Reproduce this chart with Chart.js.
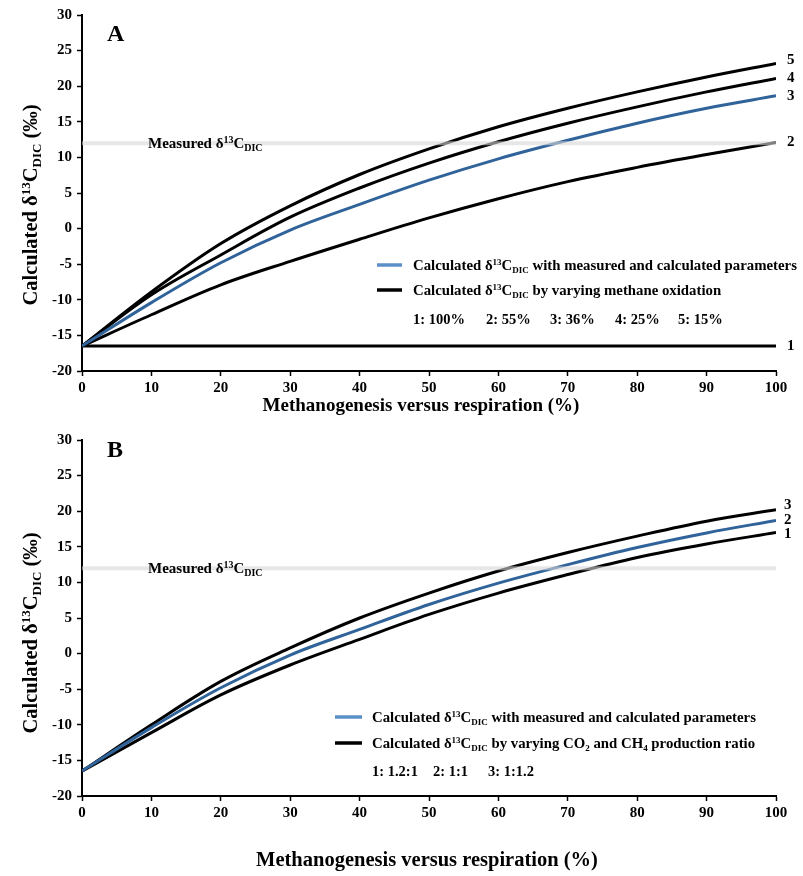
<!DOCTYPE html>
<html><head><meta charset="utf-8">
<script src="https://cdn.jsdelivr.net/npm/chart.js@4/dist/chart.umd.min.js"></script>
<style>
html,body{margin:0;padding:0;background:#fff;}
#wrap{position:relative;width:803px;height:876px;overflow:hidden;}
canvas{position:absolute;left:0;}
</style></head><body>
<div id="wrap">
<canvas id="cA" width="803" height="430" style="top:0;width:803px;height:430px"></canvas>
<canvas id="cB" width="803" height="451" style="top:425px;width:803px;height:451px"></canvas>
</div>
<script>
// ---- data ----
const xValues = [0, 10, 20, 30, 40, 50, 60, 70, 80, 90, 100];
const measuredValue = 12;
// Panel A: methane oxidation
const aOx100 = [-16.5, -16.5, -16.5, -16.5, -16.5, -16.5, -16.5, -16.5, -16.5, -16.5, -16.5];
const aOx55  = [-16.5, -12.1, -7.9, -4.6, -1.5, 1.5, 4.2, 6.6, 8.6, 10.4, 12.1];
const aOx36  = [-16.5, -10.4, -4.8, -0.2, 3.4, 6.8, 9.8, 12.4, 14.8, 16.9, 18.65];
const aOx25  = [-16.5, -9.3, -3.7, 1.6, 5.7, 9.2, 12.2, 14.8, 17.1, 19.2, 21.1];
const aOx15  = [-16.5, -8.9, -2.1, 3.2, 7.6, 11.2, 14.3, 16.9, 19.2, 21.3, 23.2];
const aNumbers = ['1: 100%', '2: 55%', '3: 36%', '4: 25%', '5: 15%'];
// Panel B: CO2 : CH4 production ratio
const bR12_1 = [-16.5, -11.1, -5.8, -1.6, 2.0, 5.5, 8.5, 11.1, 13.5, 15.4, 17.0];
const bR1_1  = [-16.5, -10.4, -4.8, -0.2, 3.4, 6.9, 9.9, 12.5, 14.9, 16.95, 18.7];
const bR1_12 = [-16.5, -10.0, -3.9, 0.8, 5.0, 8.5, 11.6, 14.2, 16.5, 18.6, 20.2];
const bNumbers = ['1: 1.2:1', '2: 1:1', '3: 1:1.2'];
const xTitle = 'Methanogenesis versus respiration (%)';

// ---- helpers ----
const FAM = '"Liberation Serif", "Times New Roman", serif';
const BLUE = '#30639a';
const pts = arr => arr.map((v, i) => ({x: xValues[i], y: v}));
const flat = v => xValues.filter((x, i) => i === 0 || i === xValues.length - 1).map(x => ({x, y: v}));

function rich(ctx, parts, x, cy, base, align) {
  const small = Math.round(base * 0.64);
  let w = 0;
  const m = parts.map(([t, k]) => {
    const size = k === 'n' ? base : small;
    ctx.font = `bold ${size}px ${FAM}`;
    const tw = ctx.measureText(t).width; w += tw;
    return {t, k, size, tw};
  });
  let cx = align === 'center' ? x - w / 2 : x;
  const y = cy + base * 0.34;
  ctx.textAlign = 'left'; ctx.textBaseline = 'alphabetic'; ctx.fillStyle = '#000';
  for (const p of m) {
    ctx.font = `bold ${p.size}px ${FAM}`;
    const dy = p.k === 'sup' ? -base * 0.36 : (p.k === 'sub' ? base * 0.2 : 0);
    ctx.fillText(p.t, cx, y + dy);
    cx += p.tw;
  }
  return w;
}
const d13 = (pre, post) => [[pre + 'δ', 'n'], ['13', 'sup'], ['C', 'n'], ['DIC', 'sub'], [post, 'n']];

function makeChart(id, datasets, deco) {
  const tickFont = {family: FAM, size: 15, weight: 'bold'};
  return new Chart(document.getElementById(id), {
    type: 'line',
    data: {datasets},
    options: {
      responsive: false, animation: false,
      layout: {padding: {top: 15, right: 27, left: 0, bottom: 0}},
      plugins: {legend: {display: false}, tooltip: {enabled: false}},
      elements: {point: {radius: 0}, line: {tension: 0.35}},
      scales: {
        x: {type: 'linear', min: 0, max: 100,
          ticks: {stepSize: 10, color: '#000', font: tickFont, padding: 3, maxRotation: 0},
          grid: {drawOnChartArea: false, drawTicks: true, tickLength: 5, tickColor: '#000', tickWidth: 1.5},
          border: {display: true, color: '#000', width: 2},
          afterFit(s) { s.height = deco.xAxisH; }},
        y: {min: -20, max: 30,
          ticks: {stepSize: 5, color: '#000', font: tickFont, padding: 5},
          grid: {drawOnChartArea: false, drawTicks: true, tickLength: 5, tickColor: '#000', tickWidth: 1.5},
          border: {display: true, color: '#000', width: 2},
          afterFit(s) { s.width = 82; }}
      }
    },
    plugins: [{
      id: 'deco',
      afterDraw(chart) {
        const ctx = chart.ctx;
        ctx.save();
        // panel letter
        ctx.fillStyle = '#000'; ctx.font = `bold 24px ${FAM}`;
        ctx.textAlign = 'left'; ctx.textBaseline = 'middle';
        ctx.fillText(deco.letter, 107, deco.letterY);
        // measured label
        rich(ctx, d13('Measured ', ''), 148, chart.scales.y.getPixelForValue(measuredValue), 15, 'left');
        // curve end labels
        chart.data.datasets.forEach((ds, i) => {
          if (!ds.endLabel) return;
          const meta = chart.getDatasetMeta(i);
          const p = meta.data[meta.data.length - 1];
          ctx.font = `bold 15px ${FAM}`; ctx.textAlign = 'left'; ctx.textBaseline = 'middle'; ctx.fillStyle = '#000';
          ctx.fillText(ds.endLabel, p.x + deco.endDx, p.y + (ds.endDy || 0));
        });
        // legend
        const L = deco.legend;
        ctx.lineWidth = 3.5;
        ctx.strokeStyle = '#5b8fc8';
        ctx.beginPath(); ctx.moveTo(L.sx0, L.y1); ctx.lineTo(L.sx1, L.y1); ctx.stroke();
        ctx.strokeStyle = '#000';
        ctx.beginPath(); ctx.moveTo(L.sx0, L.y2); ctx.lineTo(L.sx1, L.y2); ctx.stroke();
        rich(ctx, d13('Calculated ', ' with measured and calculated parameters'), L.tx, L.y1, 14.8, 'left');
        rich(ctx, L.second, L.tx, L.y2, 14.8, 'left');
        ctx.font = `bold 14.5px ${FAM}`; ctx.textAlign = 'left'; ctx.textBaseline = 'middle'; ctx.fillStyle = '#000';
        L.nums.forEach((t, i) => ctx.fillText(t, L.nx[i], L.y3));
        // axis titles
        ctx.save();
        ctx.translate(30, deco.yTitleY); ctx.rotate(-Math.PI / 2);
        rich(ctx, d13('Calculated ', ' (‰)'), 0, 0, deco.yTitleSize, 'center');
        ctx.restore();
        ctx.font = `bold ${deco.xTitleSize}px ${FAM}`; ctx.textAlign = 'center'; ctx.textBaseline = 'middle';
        ctx.fillText(xTitle, deco.xTitleX, deco.xTitleY);
        ctx.restore();
      }
    }]
  });
}

const measuredDs = () => ({data: flat(measuredValue), borderColor: 'rgba(215,215,215,0.6)', borderWidth: 4, order: -1, tension: 0});

makeChart('cA', [
  measuredDs(),
  {data: pts(aOx36), borderColor: BLUE, borderWidth: 3, order: 0, endLabel: '3'},
  {data: pts(aOx15), borderColor: '#000', borderWidth: 3, order: 1, endLabel: '5', endDy: -3},
  {data: pts(aOx25), borderColor: '#000', borderWidth: 3, order: 1, endLabel: '4'},
  {data: pts(aOx55), borderColor: '#000', borderWidth: 3, order: 1, endLabel: '2'},
  {data: pts(aOx100), borderColor: '#000', borderWidth: 3, order: 1, endLabel: '1'}
], {
  xAxisH: 59, letter: 'A', letterY: 35, endDx: 11,
  legend: {sx0: 377, sx1: 402, tx: 413, y1: 265, y2: 290, y3: 320,
    second: d13('Calculated ', ' by varying methane oxidation'),
    nums: aNumbers, nx: [413, 486, 550, 615, 678]},
  yTitleY: 205, yTitleSize: 20.5, xTitleX: 421, xTitleY: 406, xTitleSize: 19
});

makeChart('cB', [
  measuredDs(),
  {data: pts(bR1_1), borderColor: BLUE, borderWidth: 3, order: 0, endLabel: '2'},
  {data: pts(bR1_12), borderColor: '#000', borderWidth: 3, order: 1, endLabel: '3', endDy: -5},
  {data: pts(bR12_1), borderColor: '#000', borderWidth: 3, order: 1, endLabel: '1', endDy: 2}
], {
  xAxisH: 80, letter: 'B', letterY: 26, endDx: 8,
  legend: {sx0: 335, sx1: 362, tx: 372, y1: 292, y2: 318, y3: 347,
    second: [['Calculated δ', 'n'], ['13', 'sup'], ['C', 'n'], ['DIC', 'sub'], [' by varying CO', 'n'], ['2', 'sub'], [' and CH', 'n'], ['4', 'sub'], [' production ratio', 'n']],
    nums: bNumbers, nx: [372, 433, 488]},
  yTitleY: 208, yTitleSize: 20.5, xTitleX: 427, xTitleY: 436, xTitleSize: 20.5
});
</script>
</body></html>
